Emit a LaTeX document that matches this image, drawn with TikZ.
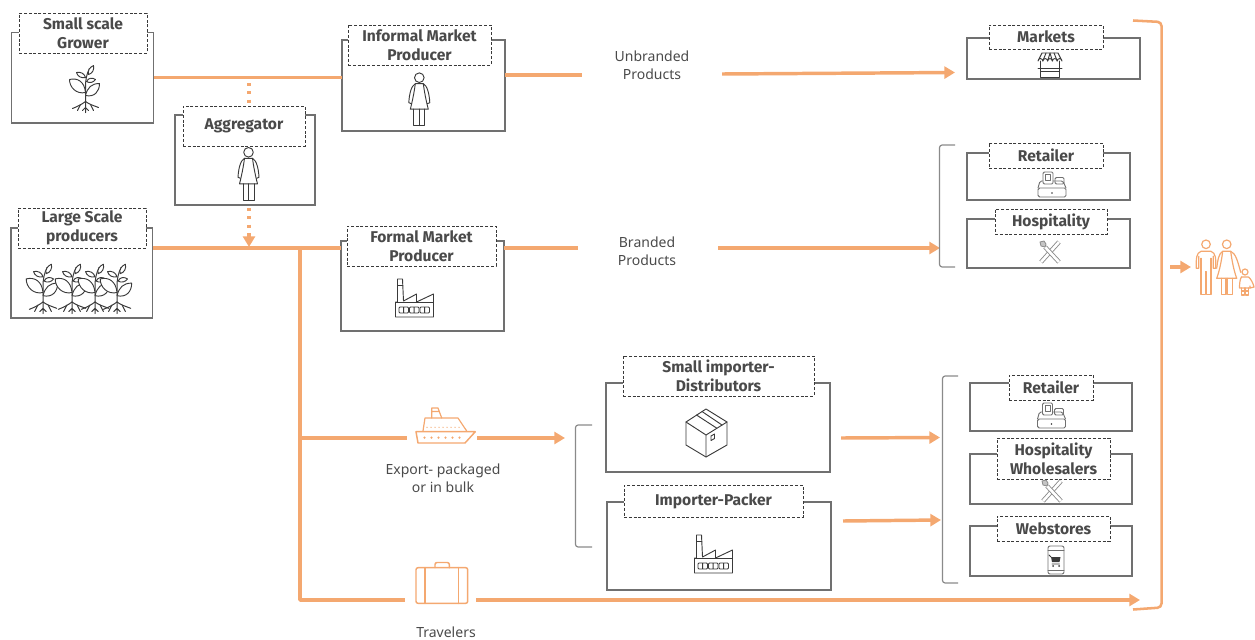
\documentclass[tikz,border=0pt]{standalone}
\usepackage{fontspec}
\setmainfont{Noto Sans}
\newfontfamily\lblfont{Fira Sans}
\usetikzlibrary{fit,arrows.meta,calc}
\definecolor{flowc}{HTML}{F4A870}
\definecolor{linec}{HTML}{707070}
\definecolor{txtc}{HTML}{4A4A4A}
\definecolor{inkc}{HTML}{3A3A3A}
\definecolor{brk}{HTML}{8A8A8A}
\newcommand{\lblbox}[6]{%
  \pgfmathsetmacro{\lcx}{(#2+#4)/2}\pgfmathsetmacro{\lcy}{(#3+#5)/2}%
  \pgfmathsetmacro{\lw}{(#4-#2)*0.75}\pgfmathsetmacro{\lh}{(#5-#3)*0.75}%
  \node[labelbox,minimum width=\lw pt,minimum height=\lh pt] (#1) at (\lcx,\lcy) {#6};}
\tikzset{
  x=0.75pt,y=-0.75pt,
  framebox/.style={draw=linec,line width=1.1pt,inner sep=0pt,outer sep=0pt},
  labelbox/.style={draw=inkc,line width=0.75pt,dash pattern=on 2.2pt off 1.4pt,fill=white,inner sep=0pt,outer sep=0pt,
    text=txtc,align=center,font=\lblfont\bfseries\fontsize{11.7}{14.2}\selectfont},
  plaintext/.style={text=txtc,align=center,font=\fontsize{10.5}{13.5}\selectfont,inner sep=0pt,outer sep=0pt},
  flow/.style={draw=flowc,line width=2.6pt,line cap=butt},
  flowarrow/.style={flow,-{Triangle[length=8pt,width=9pt]}},
  dotflow/.style={draw=flowc,line width=2.6pt,dash pattern=on 2.4pt off 3.8pt},
  bracketline/.style={draw=brk,line width=0.9pt,rounded corners=2pt},
  ink/.style={draw=inkc,line width=0.7pt,line join=round,line cap=round},
  orange/.style={draw=flowc,line width=0.9pt,line join=round,line cap=round},
  pics/plant/.style={code={
    \draw[ink,line width=0.75pt] (0,0)--(0,-14) .. controls (0,-22) and (1,-27) .. (4,-33);
    \draw[ink,fill=white] (0,-9) .. controls (-1,-20) and (-8,-24) .. (-16,-22) .. controls (-16,-14) and (-9,-7) .. (0,-9);
    \draw[ink,fill=white] (0,-6) .. controls (2,-14) and (6,-18) .. (14,-18) .. controls (14,-10) and (9,-4) .. (0,-6);
    \draw[ink,fill=white] (0,-24) .. controls (-1,-28) and (-5,-30) .. (-9,-29) .. controls (-8,-25) and (-4,-23) .. (0,-24);
    \draw[ink,fill=white] (1,-20) .. controls (3,-24) and (7,-24) .. (10,-22) .. controls (8,-19) and (4,-18) .. (1,-20);
    \draw[ink,fill=white] (3,-27) .. controls (2,-31) and (4,-34) .. (8,-36) .. controls (9,-32) and (7,-28) .. (3,-27);
    \draw[ink,line width=0.75pt] (0,0) .. controls (-4,3) and (-8,5) .. (-13,7);
    \draw[ink,line width=0.75pt] (0,0) .. controls (4,3) and (8,4) .. (13,6);
    \draw[ink,line width=0.75pt] (0,0)--(0,11) (-5,3)--(-8,9) (5,3)--(8,9) (0,6)--(-3,9) (0,6)--(3,9);
  }},
  pics/woman/.style={code={
    \draw[ink] (0,0) circle (4.8);
    \draw[ink] (-4,6) -- (4,6) .. controls (5,14) and (7,24) .. (9,31.5) -- (-9,31.5) .. controls (-7,24) and (-5,14) .. (-4,6);
    \draw[ink] (-4,6) .. controls (-8,8) and (-10,16) .. (-10.5,25) -- (-8,26);
    \draw[ink] (4,6) .. controls (8,8) and (10,16) .. (10.5,25) -- (8,26);
    \draw[ink] (-5.5,31.5) -- (-5.5,48) -- (5.5,48) -- (5.5,31.5) (0,31.5) -- (0,48);
  }},
  pics/factory/.style={code={
    \draw[ink] (0,0) -- (0,-15) -- (2,-15) -- (2,-38) -- (7,-38) -- (8,-16) -- (21,-23) -- (21,-15) -- (38,-23) -- (38,0) -- cycle;
    \draw[ink] (0,-15) -- (38,-15) (2.2,-32) -- (7.2,-32);
    \foreach \a in {3.5,14,24.5}{\draw[ink,rounded corners=0.8pt] (\a,-10) rectangle ++(9.5,6) (\a+4.7,-10) -- ++(0,6);}
  }},
  pics/register/.style={code={
    \draw[ink,draw=linec,rounded corners=1.2pt] (-14,0) rectangle (14,-9);
    \fill[inkc] (0,-4) circle (0.9);
    \draw[ink,draw=linec,rounded corners=1.2pt] (-14,-9) -- (-12,-16) -- (-9,-16) (1,-16) -- (11,-16) -- (14,-9);
    \draw[ink,draw=linec,rounded corners=1pt] (-9,-13) -- (-9,-25) -- (1,-25) -- (1,-13) -- cycle;
    \draw[ink,draw=linec] (-6.5,-22.5) -- (-1.5,-22.5) -- (-1.5,-17) -- (-6.5,-17) -- cycle;
    \draw[ink,draw=linec,rounded corners=1pt] (3,-13) -- (3,-19.5) -- (12,-19.5) -- (12,-13) -- cycle;
  }},
  pics/cutlery/.style={code={
    \draw[draw=brk,line width=0.65pt,double=white,double distance=2pt] (9,-11) -- (-9,9);
    \draw[draw=brk,line width=0.65pt,double=white,double distance=2pt] (-5,-6) -- (9,9);
    \draw[draw=brk,fill=brk!50,line width=0.6pt] (-5,-6) -- (-9,-7) -- (-10,-11) -- (-6,-12) -- (-4,-9) -- cycle;
  }},
}
\begin{document}
\begin{tikzpicture}
\useasboundingbox (0,0) rectangle (1255,639);

% frames
\node[framebox,fit={(11.5,32.5)(153.5,123)}] (grower) {};
\node[framebox,fit={(175,115)(315,205)}] (aggr) {};
\node[framebox,fit={(11,228)(152.5,318)}] (large) {};
\node[framebox,fit={(342,40)(505,131)}] (informal) {};
\node[framebox,fit={(341,241)(504,331)}] (formal) {};
\node[framebox,fit={(967,38)(1140,79)}] (markets) {};
\node[framebox,fit={(967,153)(1130,200)}] (retailA) {};
\node[framebox,fit={(967,219)(1130,268)}] (hospA) {};
\node[framebox,fit={(970,383)(1132,431)}] (retailB) {};
\node[framebox,fit={(970,454)(1132,504)}] (hospB) {};
\node[framebox,fit={(970,526)(1132,576)}] (web) {};
\node[framebox,fit={(606,383)(830,472)}] (smallimp) {};
\node[framebox,fit={(607,502)(831,590)}] (packer) {};

% labels
\lblbox{growerL}{19}{13}{147}{53}{Small scale\\Grower}
\lblbox{aggrL}{183}{106}{305}{146}{Aggregator}
\lblbox{largeL}{18}{208}{146}{248}{Large Scale\\producers}
\lblbox{informalL}{348}{25}{491}{65}{Informal Market\\Producer}
\lblbox{formalL}{347}{226}{496}{266}{Formal Market\\Producer}
\lblbox{marketsL}{989}{25}{1103}{49}{Markets}
\lblbox{retailAL}{989}{143}{1103}{168}{Retailer}
\lblbox{hospAL}{995}{209}{1107}{234}{Hospitality}
\lblbox{retailBL}{1009}{375}{1093}{400}{Retailer}
\lblbox{hospBL}{997}{438}{1110}{479}{Hospitality\\Wholesalers}
\lblbox{webL}{997}{516}{1110}{541}{Webstores}
\lblbox{smallimpL}{623}{356}{814}{396}{Small importer-\\Distributors}
\lblbox{packerL}{624}{485}{803}{517}{Importer-Packer}

% plain texts
\node[plaintext] (unbranded) at (652,65.5) {Unbranded\\Products};
\node[plaintext] (branded) at (647,251) {Branded\\Products};
\node[plaintext] (export) at (443,478) {Export- packaged\\or in bulk};
\node[plaintext] (travelers) at (446,632) {Travelers};

% connector ports
\coordinate (unbIn) at (582,75);
\coordinate (unbOut) at (722,74);
\coordinate (mktIn) at (955,72.5);
\coordinate (brIn) at (578,248);
\coordinate (brOut) at (718,248);
\coordinate (brkA) at (940,248);
\coordinate (dotA) at (249,83);
\coordinate (dotB) at (249,103);
\coordinate (dotC) at (249,208);
\coordinate (dotD) at (249,247);
\coordinate (junction) at (300,248);
\coordinate (shipIn) at (407,438);
\coordinate (shipOut) at (477,438);
\coordinate (brkM) at (565,438);
\coordinate (suitIn) at (405,600);
\coordinate (suitOut) at (476,600);
\coordinate (bagEnd) at (1140,600);
\coordinate (s1) at (841,438);
\coordinate (s2) at (940,437.5);
\coordinate (s3) at (843,521);
\coordinate (s4) at (941,520);
\coordinate (famA) at (1170,267);
\coordinate (famB) at (1191,267);

% orange connectors
\draw[flow] (grower.east) -- (grower.east -| informal.west);
\draw[flow] (informal.east |- unbIn) -- (unbIn);
\draw[flowarrow] (unbOut) -- (mktIn);
\draw[dotflow] (dotA) -- (dotB);
\draw[dotflow] (dotC) -- (dotD |- 0,236);
\draw[flowarrow] ($(dotD)+(0,-12)$) -- (dotD);
\draw[flow] (large.east |- junction) -- (formal.west |- junction);
\draw[flow] (formal.east |- brIn) -- (brIn);
\draw[flowarrow] (brOut) -- (brkA);
\draw[flow,line join=round] (junction) |- (suitIn);
\draw[flow] (junction |- shipIn) -- (shipIn);
\draw[flowarrow] (shipOut) -- (brkM);
\draw[flowarrow] (suitOut) -- (bagEnd);
\draw[flowarrow] (s1) -- (s2);
\draw[flowarrow] (s3) -- (s4);
\draw[flowarrow] (famA) -- (famB);

% brackets
\draw[draw=flowc,line width=1.9pt,rounded corners=3pt] (1133,20.5) -- (1161.5,22) -- (1161.5,607.5) -- (1133,609.5);
\draw[bracketline] (955,145) -- (939.5,145) -- (939.5,267) -- (955,267);
\draw[bracketline] (958,376) -- (942.5,376) -- (942.5,583) -- (958,583);
\draw[bracketline] (592,425) -- (575.5,425) -- (575.5,547) -- (592,547);

% plant icons
\pic at (85.5,101.5) {plant};
\pic[scale=1.05] at (43,302) {plant};
\pic[scale=1.05] at (72,302) {plant};
\pic[scale=1.05] at (95,302) {plant};
\pic[scale=1.05] at (117,302) {plant};

% people
\pic at (419.3,77.7) {woman};
\pic at (248.5,152.3) {woman};

% factories
\pic at (395.5,317) {factory};
\pic at (694.5,573) {factory};

% registers
\pic at (1052,197) {register};
\pic at (1051.5,428) {register};

% cutlery
\pic at (1050,253) {cutlery};
\pic at (1052,492) {cutlery};

% shop
\begin{scope}[shift={(1050,65)}]
  \draw[ink,fill=white] (-9.5,-4) -- (-9.5,12) -- (9.5,12) -- (9.5,-4);
  \draw[ink] (-12,3) -- (12,3) (-9.5,6) -- (9.5,6);
  \draw[ink,fill=white] (-8,-12) -- (8,-12) -- (12,-4) arc (0:-180:2.4) arc (0:-180:2.4) arc (0:-180:2.4) arc (0:-180:2.4) arc (0:-180:2.4) -- cycle;
  \draw[ink] (-4,-12) -- (-7.2,-4) (0,-12) -- (-2.4,-4) (0,-12) -- (2.4,-4) (4,-12) -- (7.2,-4);
\end{scope}

% box
\draw[ink] (706,409) -- (727,422) -- (727,445) -- (706,457) -- (686,445) -- (686,422) -- cycle;
\draw[ink] (686,422) -- (706,435) -- (727,422) (706,435) -- (706,457);
\draw[ink] (696.5,415) -- (716.5,428) (702,411.5) -- (722,425);
\draw[ink] (711,436) -- (714.5,434) -- (714.5,438.5) -- (711,440.5) -- cycle;

% phone
\begin{scope}[shift={(1056,560)}]
  \draw[ink,draw=linec,rounded corners=1.5pt] (-8,-14) rectangle (8,14);
  \draw[ink,draw=linec] (-8,-10) -- (8,-10) (-8,10) -- (8,10);
  \fill[inkc] (-5,-3) -- (4.5,-3) -- (3.5,2) -- (-4,2) -- cycle;
  \draw[ink] (-7,-5) -- (-5,-3) (-4,4) -- (3.5,4);
  \fill[inkc] (-3,6) circle (1) (3,6) circle (1);
\end{scope}

% ship
\draw[orange,line width=1.1pt] (416,431.7) -- (475.3,431.7) -- (465,443) -- (418,443) -- cycle;
\draw[orange] (423,431) -- (425,418) -- (458,418) -- (466.7,431);
\draw[orange] (431.7,418) -- (431.7,408) -- (438,408) -- (441.7,418) (431.7,411.5) -- (439,411.5);
\foreach \a in {427,431,435,439,443,447,451,455,459}{\fill[flowc] (\a,427.3) circle (0.7);}
\foreach \a in {424.5,431.5,438.5,445.5,452.5,459.5}{\fill[flowc] (\a,437.6) circle (1.2);}

% suitcase
\draw[orange,rounded corners=1.5pt,line width=1.1pt] (416,567.7) rectangle (467.7,603.3);
\draw[orange,line width=1.1pt] (425,567.7) -- (425,603.3) (458.3,567.7) -- (458.3,603.3);
\draw[orange,rounded corners=1.5pt,line width=1.1pt] (435,567.7) -- (435,562.5) -- (449.3,562.5) -- (449.3,567.7);

% family
\begin{scope}[shift={(1206,244.3)}]
  \draw[orange] (0,0) circle (4.3);
  \draw[orange] (-7.2,12) -- (-7.2,24) -- (-9.8,24) .. controls (-9.8,14) and (-10,9) .. (-5,7) -- (5,7) .. controls (10,9) and (9.8,14) .. (9.8,24) -- (7.2,24) -- (7.2,12);
  \draw[orange] (-5,14) -- (-5,50) -- (-0.8,50) -- (-0.8,27) -- (0.8,27) -- (0.8,50) -- (5,50) -- (5,14);
\end{scope}
\begin{scope}[shift={(1226.7,244.3)}]
  \draw[orange] (0,0) circle (4.3);
  \draw[orange] (-4,7) -- (4,7) .. controls (5,15) and (7,26) .. (10,34) -- (-10,34) .. controls (-7,26) and (-5,15) .. (-4,7);
  \draw[orange] (-4,7) .. controls (-8,9) and (-9,16) .. (-10,24);
  \draw[orange] (4,7) .. controls (9,9) and (11,17) .. (14,28);
  \draw[orange] (-5.5,34) -- (-5.5,50.5) -- (-0.8,50.5) -- (-0.8,34) (0.8,34) -- (0.8,50.5) -- (5.5,50.5) -- (5.5,34);
\end{scope}
\begin{scope}[shift={(1245,272)}]
  \draw[orange] (0,0) circle (3);
  \draw[orange] (-3.5,5) -- (3.5,5) .. controls (6,7) and (8,11) .. (9,15) -- (5,16) -- (5,14);
  \draw[orange] (-3.5,5) .. controls (-5,7) and (-5.5,11) .. (-5.5,16) -- (5,16);
  \draw[orange] (-3.5,16) -- (-3.5,23) -- (-0.6,23) -- (-0.6,16) (0.6,16) -- (0.6,23) -- (3.5,23) -- (3.5,16) (-3.5,19) -- (3.5,19);
\end{scope}
\end{tikzpicture}
\end{document}
